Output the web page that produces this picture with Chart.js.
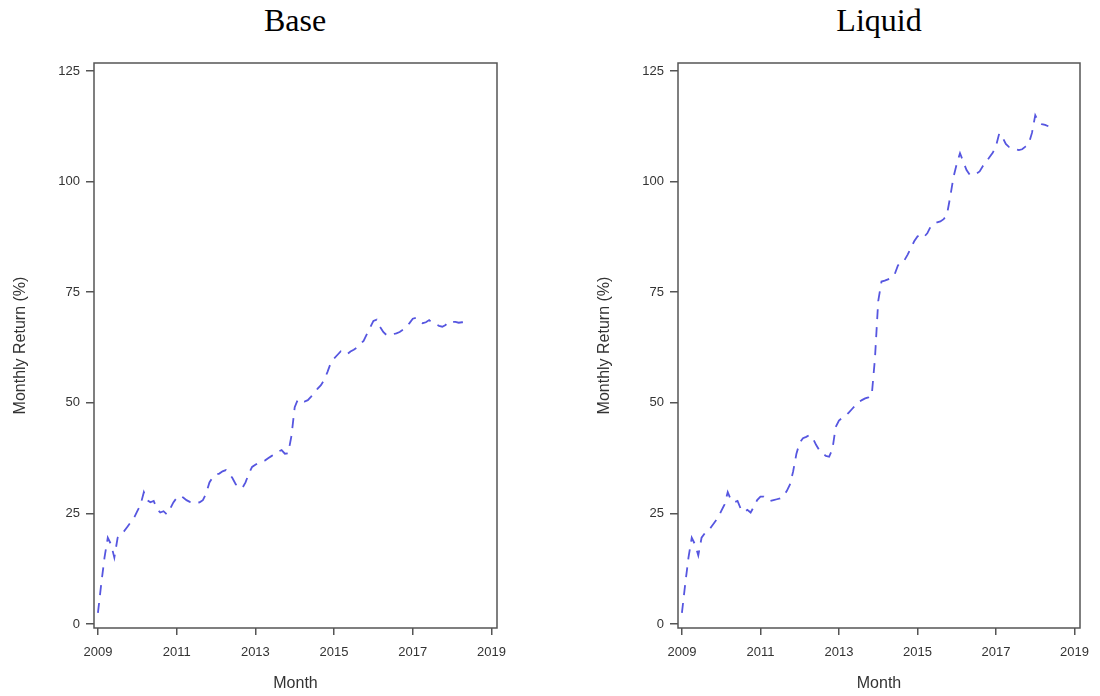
<!DOCTYPE html>
<html>
<head>
<meta charset="utf-8">
<script src="https://cdn.jsdelivr.net/npm/chart.js@4.4.0/dist/chart.umd.min.js"></script>
<style>
  body { margin: 0; background: #fff; width: 1100px; height: 696px; overflow: hidden; position: relative; }
  .title { position: absolute; top: 4px; font-family: "Liberation Serif", serif; font-size: 32px; line-height: 32px; color: #000; transform: translateX(-50%); }
  canvas { position: absolute; top: 0; }
</style>
</head>
<body>
<div class="title" style="left:295px">Base</div>
<div class="title" style="left:879px">Liquid</div>
<canvas id="base" width="550" height="696" style="left:0"></canvas>
<canvas id="liquid" width="516" height="696" style="left:584px"></canvas>
<script>
/*_____________________DATA____________________*/

// monthly, starting Jan 2009
const startYear = 2009;
const xTicks = [2009, 2011, 2013, 2015, 2017, 2019];
const yTicks = [0, 25, 50, 75, 100, 125];

const baseReturn = [2.5, 9, 15, 19.5, 18, 15, 19.5, 20.5, 21, 22, 23, 24,
  25.5, 27, 29.8, 28, 27.5, 27.8, 26, 25.2, 25.5, 24.8, 26, 27.5,
  28.5, 29, 28.6, 28, 27.6, 27.3, 27.4, 27.5, 28, 29.5, 32, 33.2,
  33.8, 34, 34.5, 34.8, 34, 33, 31.6, 31, 30.7, 32, 34, 35.5,
  36, 36.5, 36.8, 37, 37.5, 38, 38.4, 39, 39.3, 38.5, 38.6, 42.5,
  49, 50.8, 50.5, 50.3, 50.6, 51.4, 52.3, 53.2, 54, 55.2, 57, 59,
  60, 60.8, 61.6, 61, 61, 61.6, 62, 62.5, 63.3, 64, 65.5, 67,
  68.5, 68.8, 67.2, 66, 65.3, 65.3, 65.5, 65.7, 66, 66.5, 67.2, 68,
  69, 69.2, 68.5, 68, 68.2, 68.7, 68, 67.8, 67.4, 67.2, 67.6, 68.4,
  68.3, 68.3, 68.1, 68.2, 68.1];

const liquidReturn = [2.5, 9, 15, 19.5, 18, 15.5, 19.5, 20.5, 21, 22, 23, 24,
  25.5, 27, 29.8, 28, 27.5, 27.8, 26, 25.3, 25.8, 25.2, 26.5, 28,
  28.8, 28.8, 28.2, 27.8, 28, 28.2, 28.4, 29, 30, 31.5, 34.5, 38.5,
  41, 42, 42.3, 42.7, 42, 40.5, 39.3, 38.6, 38, 37.8, 39.5, 44.5,
  46, 46.6, 47, 47.8, 48.6, 49.4, 50.2, 50.6, 51, 51.2, 51.5, 60,
  73, 77.4, 77.6, 77.9, 78.2, 79, 81, 82, 82.2, 83.5, 85, 86.5,
  87.6, 88, 87.5, 88.3, 89.8, 90.5, 90.8, 91, 91.5, 92.5, 96.5, 101,
  104, 106.4, 104.5, 102.6, 101.5, 101.5, 101.8, 102.3, 103.5, 104.5, 105.5, 106.5,
  108, 110.9, 110, 108.5, 107.8, 107.5, 107.3, 107.1, 107.3, 107.9, 108.5, 111,
  115, 113.5, 113, 112.8, 112.5];


/*_____________________FRAME_PLUGIN____________________*/

const frame = {
  id: 'frame',
  afterDraw(chart) {
    const {ctx, chartArea: a} = chart;
    ctx.save();
    ctx.strokeStyle = '#555';
    ctx.lineWidth = 1.5;
    ctx.strokeRect(a.left, a.top, a.right - a.left, a.bottom - a.top);
    ctx.restore();
  }
};


/*_____________________CHARTS____________________*/

const tickFont = {family: '"Liberation Sans", Arial, sans-serif', size: 13};
const titleFont = {family: '"Liberation Sans", Arial, sans-serif', size: 16};

function makeChart(id, values, padRight) {
  const pts = values.map((v, i) => ({x: startYear + i / 12, y: v}));
  new Chart(document.getElementById(id), {
    type: 'line',
    data: {
      datasets: [{
        data: pts,
        borderColor: '#5656e0',
        borderWidth: 1.8,
        borderDash: [10, 8],
        pointRadius: 0,
        tension: 0,
        fill: false
      }]
    },
    plugins: [frame],
    options: {
      responsive: false,
      animation: false,
      layout: {padding: {top: 63, left: 0, right: padRight, bottom: 0}},
      plugins: {legend: {display: false}, tooltip: {enabled: false}},
      scales: {
        x: {
          type: 'linear',
          min: 2008.9,
          max: 2019.14,
          afterBuildTicks: s => { s.ticks = xTicks.map(v => ({value: v})); },
          afterFit: s => { s.height = 68; },
          grid: {drawOnChartArea: false, tickLength: 7, color: '#555', lineWidth: 1.5},
          border: {display: false},
          ticks: {font: tickFont, color: '#333', padding: 10, maxRotation: 0, callback: v => String(v)},
          title: {display: true, text: 'Month', font: titleFont, color: '#333', padding: {top: 0, bottom: 3}}
        },
        y: {
          min: -0.9,
          max: 126.8,
          afterBuildTicks: s => { s.ticks = yTicks.map(v => ({value: v})); },
          afterFit: s => { s.width = 94; },
          grid: {drawOnChartArea: false, tickLength: 8, color: '#555', lineWidth: 1.5},
          border: {display: false},
          ticks: {font: tickFont, color: '#333', padding: 6},
          title: {display: true, text: 'Monthly Return (%)', font: titleFont, color: '#333', padding: {top: 11, bottom: 0}}
        }
      }
    }
  });
}

makeChart('base', baseReturn, 53);
makeChart('liquid', liquidReturn, 20);
</script>
</body>
</html>
